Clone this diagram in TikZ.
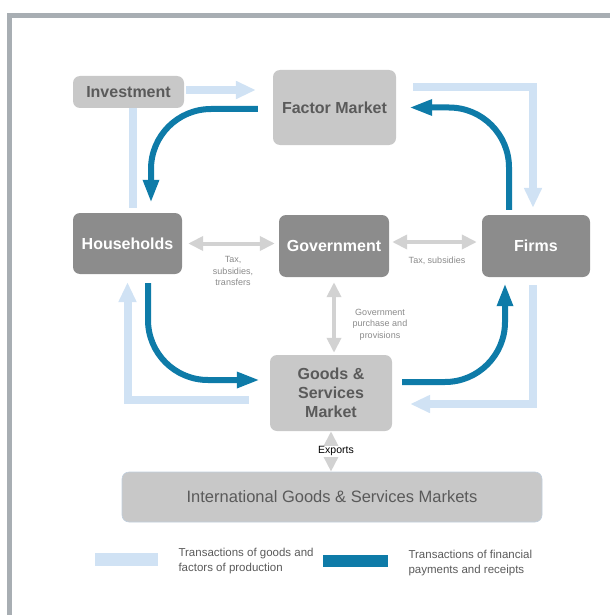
\documentclass[tikz,border=0pt]{standalone}
\usepackage{fontspec}
\setmainfont{Liberation Sans}
\usetikzlibrary{arrows.meta,positioning}
\definecolor{moneyblue}{HTML}{0E7BA8}
\definecolor{goodsblue}{HTML}{D0E2F4}
\definecolor{boxlight}{HTML}{C8C8C8}
\definecolor{boxdark}{HTML}{8C8C8C}
\definecolor{txtgray}{HTML}{5A5A5A}
\definecolor{govgray}{HTML}{D2D2D2}
\definecolor{notegray}{HTML}{8A8A8A}
\definecolor{framegray}{HTML}{A8AEB3}
\tikzset{
  sector/.style={rounded corners=7pt, inner sep=0pt, align=center,
    font=\fontsize{16}{19}\selectfont\bfseries},
  lightsector/.style={sector, fill=boxlight, text=txtgray},
  darksector/.style={sector, fill=boxdark, text=white},
  goodsflow/.style={draw=goodsblue, line width=8pt,
    -{Triangle[length=20pt,width=17pt]}},
  moneyflow/.style={draw=moneyblue, line width=6pt, rounded corners=60pt,
    -{Triangle[length=23pt,width=15pt]}},
  govflow/.style={draw=govgray, line width=4pt,
    {Triangle[length=15pt,width=14pt]}-{Triangle[length=15pt,width=14pt]}},
  note/.style={text=notegray, align=center, font=\fontsize{9}{11.5}\selectfont},
  keytext/.style={text=txtgray, align=left, font=\fontsize{11.5}{15}\selectfont}
}
\begin{document}
\begin{tikzpicture}[x=1pt,y=-1pt]
\useasboundingbox (0,0) rectangle (610,615);
% frame
\draw[framegray, line width=5pt] (9.5,615) -- (9.5,15.5) -- (610,15.5);
% sectors
\node[lightsector, minimum width=111, minimum height=32] (inv) at (128.5,92) {Investment};
\node[lightsector, minimum width=123, minimum height=75] (fm) at (334.5,107.5) {Factor Market};
\node[darksector, minimum width=109, minimum height=61] (hh) at (127.5,243.5) {Households};
\node[darksector, minimum width=110, minimum height=62] (gov) at (334,246) {Government};
\node[darksector, minimum width=108, minimum height=62] (firms) at (536,246) {Firms};
\node[lightsector, minimum width=122, minimum height=76] (goods) at (331,393) {Goods \&\\Services\\Market};
\node[sector, fill=boxlight, draw=goodsblue!80!gray, line width=0.6pt, text=txtgray,
  font=\fontsize{16.5}{19}\selectfont, minimum width=420, minimum height=50] (intl) at (332,497)
  {International Goods \& Services Markets};
% goods and factors
\draw[goodsflow, shorten <=2pt, shorten >=17pt] ([shift={(0,-2)}]inv.east) -- ([shift={(0,-2)}]inv.east -| fm.west);
\draw[goodsblue, line width=8pt, shorten >=5pt] ([shift={(4,0)}]inv.south) -- ([shift={(4,0)}]inv.south |- hh.north);
\draw[goodsflow] ([shift={(17,-20)}]fm.east) -| ([shift={(-3,-7)}]firms.north);
\draw[goodsflow] ([shift={(-3,8)}]firms.south) |- ([shift={(18,11)}]goods.east);
\draw[goodsflow] ([shift={(-21,7)}]goods.west) -| ([shift={(0,8)}]hh.south);
% payments
\draw[moneyflow] ([shift={(-15,1.5)}]fm.west) -| ([shift={(23.5,-10)}]hh.north);
\draw[moneyflow] ([shift={(-27,-5)}]firms.north) |- ([shift={(13,0)}]fm.east);
\draw[moneyflow] ([shift={(20.5,9)}]hh.south) |- ([shift={(-10,-13)}]goods.west);
\draw[moneyflow] ([shift={(10,-11)}]goods.east) -| ([shift={(-31,6)}]firms.south);
% government
\draw[govflow, shorten <=6pt, shorten >=4pt] (hh.east) -- (hh.east -| gov.west);
\draw[govflow, shorten <=3pt, shorten >=5pt] ([shift={(0,-4)}]gov.east) -- ([shift={(0,-4)}]gov.east -| firms.west);
\draw[govflow, shorten <=5pt, shorten >=2pt] (gov.south) -- (gov.south |- goods.north);
\draw[govflow] (goods.south) -- (goods.south |- intl.north)
  node[midway, fill=white, inner sep=1pt, xshift=5pt, font=\fontsize{10.5}{12}\selectfont] (exports) {Exports};
\node[note] (taxhh) at (233,271) {Tax,\\subsidies,\\transfers};
\node[note] (taxfirms) at (437,261) {Tax, subsidies};
\node[note] (purchase) at (380,324.5) {Government\\purchase and\\provisions};
% key
\node[fill=goodsblue, minimum width=63, minimum height=13, inner sep=0pt] (keygoods) at (126,559.5) {};
\node[keytext, anchor=west] (keygoodstext) at (175,561.5) {Transactions of goods and\\factors of production};
\node[fill=moneyblue, minimum width=65, minimum height=12, inner sep=0pt] (keymoney) at (355.5,561) {};
\node[keytext, anchor=west] (keymoneytext) at (405,563.5) {Transactions of financial\\payments and receipts};
\end{tikzpicture}
\end{document}
